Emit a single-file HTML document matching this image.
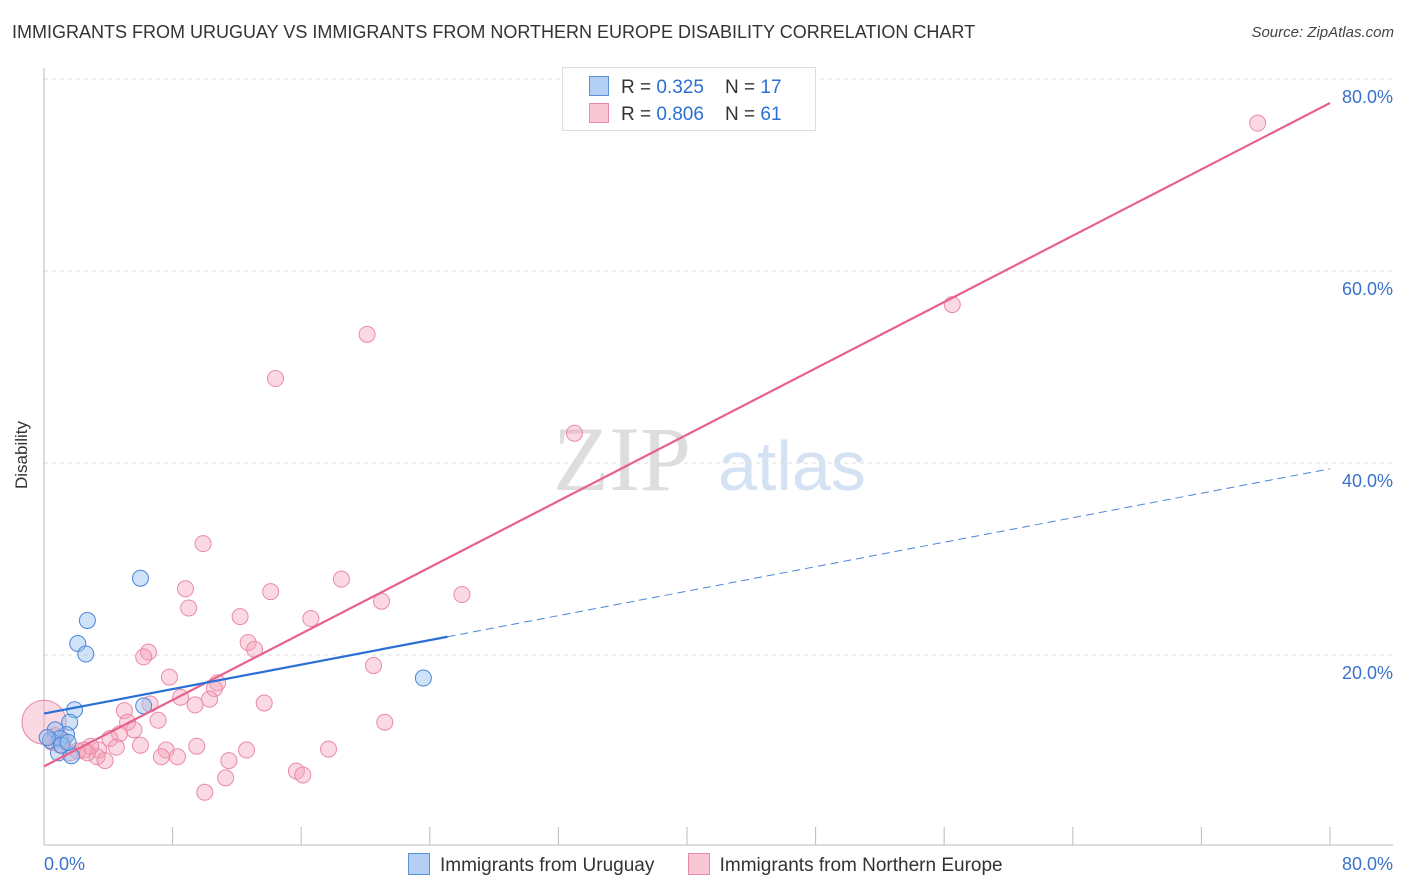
<!DOCTYPE html>
<html><head><meta charset="utf-8"><style>
body{margin:0;background:#fff;font-family:"Liberation Sans",sans-serif;}
#wrap{position:relative;width:1406px;height:892px;overflow:hidden}
</style></head><body><div id="wrap">
<div style="position:absolute;left:12px;top:22px;font-size:18px;color:#333">IMMIGRANTS FROM URUGUAY VS IMMIGRANTS FROM NORTHERN EUROPE DISABILITY CORRELATION CHART</div>
<div style="position:absolute;right:12px;top:24px;font-size:15px;font-style:italic;color:#444">Source: ZipAtlas.com</div>
<div style="position:absolute;left:-12px;top:445px;font-size:17px;color:#333;transform:rotate(-90deg)">Disability</div>
<svg id="svg" width="1406" height="892" style="position:absolute;left:0;top:0"></svg>
</div>
<script>
const xTicks=[0,8,16,24,32,40,48,56,64,72,80];
const yTicks=[20,40,60,80];
const uruguayX=[6.0,2.7,2.1,2.6,23.6,1.9,6.2,1.6,1.4,0.7,0.4,1.0,0.9,1.7,0.2,1.1,1.5];
const uruguayY=[28,23.6,21.2,20.1,17.6,14.3,14.7,13.0,11.7,12.2,11.1,11.3,9.8,9.5,11.4,10.6,10.9];
const europeX=[0,75.5,56.5,20.1,14.4,33.0,9.9,18.5,8.8,26.0,14.1,9.0,21.0,12.2,16.6,12.7,13.1,6.5,6.2,20.5,7.8,10.8,10.6,8.5,10.3,9.4,13.7,6.6,5.0,5.2,7.1,21.2,5.6,4.7,4.1,6.0,4.5,9.5,12.6,17.7,7.6,8.3,7.3,3.4,3.3,3.8,2.9,2.5,2.1,11.5,15.7,16.1,11.3,10.0,1.2,0.7,0.5,1.6,1.0,2.7];
const europeY=[13,75.4,56.5,53.4,48.8,43.1,31.6,27.9,26.9,26.3,26.6,24.9,25.6,24.0,23.8,21.3,20.6,20.3,19.8,18.9,17.7,17.1,16.5,15.6,15.4,14.8,15.0,14.9,14.2,13.0,13.2,13.0,12.2,11.8,11.3,10.6,10.4,10.5,10.1,10.2,10.1,9.4,9.4,10.1,9.4,9.0,10.5,10.1,10.0,9.0,7.9,7.5,7.2,5.7,11.1,11.6,10.9,9.8,10.6,9.8];
const uruguayLine=[[0,13.9],[25.1,21.9],[80,39.4]];
const europeLine=[[0,8.4],[80,77.5]];
const X=v=>44+v*16.075, Y=v=>847-v*9.6;
const svg=document.getElementById('svg');const NS='http://www.w3.org/2000/svg';
function mk(t,a,p){const e=document.createElementNS(NS,t);for(const k in a)e.setAttribute(k,a[k]);(p||svg).appendChild(e);return e;}
const wm=mk('text',{x:553,y:490,'font-size':92,'font-family':'Liberation Serif',fill:'#ddd'});wm.textContent='ZIP';

const wm2=mk('text',{x:718,y:490,'font-size':70,'font-family':'Liberation Sans',fill:'#d4e2f4'});wm2.textContent='atlas';

yTicks.forEach(t=>{const g=mk('line',{x1:44,x2:1393,y1:Y(t),y2:Y(t),stroke:'#ddd','stroke-dasharray':'4,4'});

const l=mk('text',{x:1393,y:Y(t)+24,'text-anchor':'end','font-size':18,fill:'#3a72c9'});l.textContent=t.toFixed(1)+'%';
});
const ax=mk('line',{x1:44,x2:1393,y1:845,y2:845,stroke:'#bbb'});
const ay=mk('line',{x1:44,x2:44,y1:68,y2:845,stroke:'#bbb'});
xTicks.forEach(t=>{const k=mk('line',{x1:X(t),x2:X(t),y1:827,y2:845,stroke:'#bbb'});});
[[0,44,'start'],[80,1393,'end']].forEach(([t,x,a])=>{const l=mk('text',{x:x,y:870,'text-anchor':a,'font-size':18,fill:'#3a72c9'});l.textContent=t.toFixed(1)+'%';
});
europeX.forEach((v,i)=>{const c=mk('circle',{cx:X(v),cy:Y(europeY[i]),r:i==0?22:8,fill:'rgba(244,160,185,0.4)',stroke:'#ea8aa8','stroke-width':1});
});
uruguayX.forEach((v,i)=>{const c=mk('circle',{cx:X(v),cy:Y(uruguayY[i]),r:8,fill:'rgba(150,190,240,0.45)',stroke:'#4a86d8','stroke-width':1});
});
const el=mk('line',{x1:X(europeLine[0][0]),y1:Y(europeLine[0][1]),x2:X(europeLine[1][0]),y2:Y(europeLine[1][1]),stroke:'#e8618c','stroke-width':2.2});

const u1=mk('line',{x1:X(uruguayLine[0][0]),y1:Y(uruguayLine[0][1]),x2:X(uruguayLine[1][0]),y2:Y(uruguayLine[1][1]),stroke:'#2a6fd4','stroke-width':2.2});

const u2=mk('line',{x1:X(uruguayLine[1][0]),y1:Y(uruguayLine[1][1]),x2:X(uruguayLine[2][0]),y2:Y(uruguayLine[2][1]),stroke:'#4a86d8','stroke-width':1,'stroke-dasharray':'8,5'});

</script>
<div style="position:absolute;left:562px;top:67px;width:252px;height:62px;border:1px solid #ddd;background:#fff;font-size:19px;color:#333">
<div style="position:absolute;left:26px;top:8px;white-space:nowrap"><span style="display:inline-block;width:18px;height:18px;background:#b4cff4;border:1px solid #5b8fd8;vertical-align:-3px;margin-right:12px"></span>R = <span style="color:#2a6fd4">0.325</span>&nbsp;&nbsp;&nbsp; N = <span style="color:#2a6fd4">17</span></div>
<div style="position:absolute;left:26px;top:35px;white-space:nowrap"><span style="display:inline-block;width:18px;height:18px;background:#f9c6d5;border:1px solid #e88aa8;vertical-align:-3px;margin-right:12px"></span>R = <span style="color:#2a6fd4">0.806</span>&nbsp;&nbsp;&nbsp; N = <span style="color:#2a6fd4">61</span></div>
</div>
<div style="position:absolute;left:408px;top:853px;font-size:19px;color:#333;white-space:nowrap">
<span><span style="display:inline-block;width:20px;height:20px;background:#b4cff4;border:1px solid #5b8fd8;vertical-align:-4px;margin-right:10px"></span>Immigrants from Uruguay</span>
<span style="margin-left:28px"><span style="display:inline-block;width:20px;height:20px;background:#f9c6d5;border:1px solid #e88aa8;vertical-align:-4px;margin-right:10px"></span>Immigrants from Northern Europe</span>
</div>
</body></html>
